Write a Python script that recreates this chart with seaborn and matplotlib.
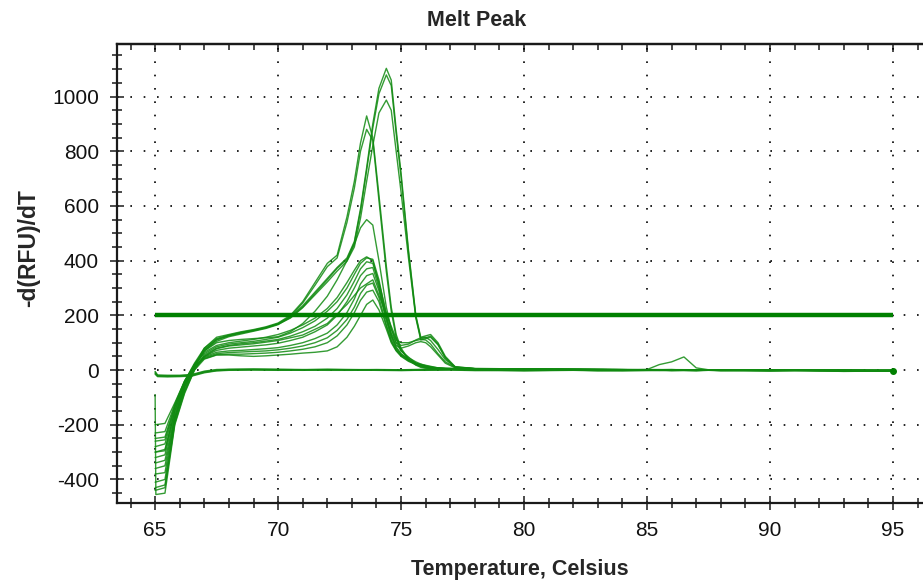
import numpy as np
import pandas as pd
import matplotlib
matplotlib.use("Agg")
import matplotlib.pyplot as plt
import seaborn as sns
from matplotlib.ticker import MultipleLocator

# temperature grid for the sample (positive) wells
temps = [65.0, 65.4, 65.8, 66.2, 66.6, 67.0, 67.5, 68.0, 68.5, 69.0,
         69.5, 70.0, 70.5, 71.0, 71.5, 72.0, 72.4, 72.8, 73.1, 73.35,
         73.6, 73.85, 74.1, 74.4, 74.6, 74.8, 75.0, 75.3, 75.6, 75.8,
         76.0, 76.2, 76.5, 76.8, 77.2, 78.0, 80.0, 85.0, 90.0, 95.0]

# -d(RFU)/dT, one list per well
well_a1 = [-300, -290, -150, -50, 20, 75, 110, 125, 135, 145,
           155, 170, 195, 235, 285, 335, 375, 410, 470, 590,
           740, 900, 1030, 1103, 1060, 880, 720, 440, 200, 120,
           125, 130, 100, 50, 12, 6, 4, 2, 0, -2]
well_a2 = [-380, -375, -175, -60, 15, 70, 105, 122, 132, 142,
           152, 166, 192, 230, 280, 330, 372, 405, 465, 580,
           730, 885, 1010, 1079, 1040, 865, 705, 430, 195, 115,
           118, 124, 95, 45, 10, 5, 3, 1, 0, -3]
well_a3 = [-250, -245, -130, -40, 25, 80, 115, 128, 138, 146,
           156, 168, 190, 228, 275, 322, 362, 398, 450, 555,
           690, 820, 940, 987, 950, 800, 650, 410, 190, 110,
           115, 120, 92, 45, 10, 5, 3, 1, 0, -2]
well_b1 = [-340, -330, -170, -60, 15, 80, 120, 130, 140, 148,
           158, 172, 200, 250, 320, 390, 420, 560, 690, 830,
           929, 850, 640, 380, 230, 130, 80, 40, 20, 12,
           8, 6, 5, 4, 3, 3, 2, 1, 0, -2]
well_b2 = [-410, -400, -180, -70, 10, 72, 112, 126, 136, 144,
           154, 168, 196, 245, 310, 378, 410, 540, 665, 800,
           880, 840, 620, 360, 215, 120, 75, 38, 18, 10,
           7, 5, 4, 3, 3, 2, 2, 1, 0, -2]
well_c1 = [-280, -270, -140, -45, 20, 70, 100, 108, 112, 115,
           118, 122, 140, 170, 215, 270, 330, 400, 460, 520,
           550, 530, 400, 230, 150, 100, 70, 45, 30, 22,
           16, 12, 8, 6, 5, 4, 3, 1, 0, -2]
well_d1 = [-200, -195, -120, -40, 20, 60, 85, 95, 100, 105,
           112, 120, 135, 155, 180, 215, 250, 300, 350, 390,
           410, 405, 330, 200, 130, 85, 60, 40, 25, 18,
           14, 10, 7, 5, 4, 3, 2, 1, 0, -2]
well_d2 = [-430, -420, -190, -75, 5, 55, 80, 90, 96, 100,
           106, 112, 124, 140, 160, 190, 225, 275, 325, 370,
           396, 390, 320, 210, 150, 110, 100, 100, 108, 112,
           110, 95, 60, 30, 10, 5, 3, 1, 0, -2]
well_d3 = [-320, -310, -160, -55, 10, 50, 72, 80, 84, 88,
           92, 98, 108, 120, 140, 165, 200, 250, 300, 345,
           370, 375, 300, 190, 135, 100, 90, 95, 110, 118,
           120, 108, 75, 38, 12, 5, 3, 1, 0, -2]
well_d4 = [-260, -255, -135, -45, 15, 48, 65, 70, 72, 75,
           78, 82, 90, 100, 115, 135, 165, 210, 260, 315,
           345, 353, 290, 180, 120, 80, 58, 38, 25, 18,
           13, 10, 7, 5, 4, 3, 2, 1, 0, -2]
well_d5 = [-360, -350, -175, -60, 8, 45, 60, 64, 66, 68,
           70, 74, 80, 88, 100, 118, 145, 185, 230, 280,
           310, 318, 265, 165, 110, 75, 55, 36, 24, 17,
           12, 9, 6, 5, 4, 3, 2, 1, 0, -2]
well_d6 = [-300, -295, -150, -50, 12, 42, 56, 58, 58, 60,
           62, 65, 70, 76, 85, 100, 125, 165, 210, 255,
           285, 292, 250, 160, 105, 72, 52, 34, 22, 16,
           11, 8, 6, 5, 4, 3, 2, 1, 0, -2]
well_d7 = [-440, -430, -195, -80, 0, 40, 55, 55, 52, 50,
           52, 55, 58, 62, 65, 70, 85, 120, 160, 200,
           240, 256, 220, 150, 100, 70, 50, 32, 20, 14,
           10, 8, 6, 4, 3, 3, 2, 1, 0, -2]
well_d8 = [-230, -225, -125, -40, 18, 65, 90, 100, 106, 112,
           120, 130, 145, 165, 190, 225, 265, 320, 365, 400,
           414, 400, 310, 190, 125, 90, 80, 88, 100, 104,
           100, 85, 55, 25, 8, 4, 3, 1, 0, -2]

# one well that opens with a spike before dropping to its plateau
spike_temps = [65.0, 65.03, 65.4, 65.8, 66.2, 66.6, 67.0, 67.5, 68.0, 69.0,
               70.0, 71.0, 72.0, 72.8, 73.35, 73.85, 74.4, 75.0, 75.6, 76.5,
               78.0, 85.0, 95.0]
well_d9 = [-90, -455, -450, -200, -85, 0, 50, 78, 88, 96,
           108, 128, 170, 240, 300, 330, 205, 70, 25, 8,
           4, 1, -2]

# temperature grid for the flat (negative) wells
flat_temps = [65.0, 65.1, 65.5, 66.0, 66.5, 67.0, 67.5, 68.0, 69.0, 70.0,
              71.0, 72.0, 73.0, 74.0, 75.0, 76.0, 77.0, 78.0, 79.0, 80.0,
              81.0, 82.0, 83.0, 84.0, 85.0, 85.5, 86.0, 86.5, 87.0, 87.5,
              88.0, 89.0, 90.0, 91.0, 92.0, 93.0, 94.0, 95.0]
flat_n1 = [-8, -20, -21, -21, -18, -6, 0, 2, 3, 2,
           1, 3, 2, 1, 0, 2, 3, 1, 0, -1,
           1, 2, 0, -1, 0, 1, 2, 0, -1, 1,
           0, -1, -2, 0, -1, -3, -2, 0]
flat_n2 = [-12, -22, -23, -22, -20, -8, -2, 0, 1, 0,
           -1, 1, 0, -1, -2, 0, 1, -1, -2, -2,
           -1, 0, -2, -3, -1, -2, 0, -1, -2, 0,
           -2, -3, -3, -2, -4, -4, -3, -2]
flat_n3 = [-5, -18, -19, -19, -16, -4, 2, 3, 4, 3,
           2, 2, 1, 2, 1, 3, 2, 0, 1, 0,
           0, 1, 1, 0, 2, 20, 30, 48, 8, 1,
           0, 0, -1, 0, -2, -1, -2, 0]
flat_n4 = [-15, -24, -25, -24, -22, -10, -3, -1, 0, -1,
           0, -1, -1, 0, -1, -1, 0, -2, -1, -3,
           -2, -1, -3, -2, -2, -1, -3, -2, -3, -1,
           -3, -2, -4, -3, -3, -5, -4, -3]

threshold = 200
threshold_span = [65.0, 95.0]

samples = {"A1": well_a1, "A2": well_a2, "A3": well_a3, "B1": well_b1,
           "B2": well_b2, "C1": well_c1, "D1": well_d1, "D2": well_d2,
           "D3": well_d3, "D4": well_d4, "D5": well_d5, "D6": well_d6,
           "D7": well_d7, "D8": well_d8}
flats = {"N1": flat_n1, "N2": flat_n2, "N3": flat_n3, "N4": flat_n4}

rows = []
for name, vals in samples.items():
    for t, v in zip(temps, vals):
        rows.append({"well": name, "Temperature": t, "dRFU": v})
for t, v in zip(spike_temps, well_d9):
    rows.append({"well": "D9", "Temperature": t, "dRFU": v})
for name, vals in flats.items():
    for t, v in zip(flat_temps, vals):
        rows.append({"well": name, "Temperature": t, "dRFU": v})
df = pd.DataFrame(rows)

sns.set_style("white")
plt.rcParams["font.family"] = ["Liberation Sans", "DejaVu Sans"]
plt.rcParams["axes.unicode_minus"] = False

green = "#108a10"
ink = "#1a1a1a"

fig = plt.figure(figsize=(9.23, 5.83), dpi=100)
ax = fig.add_axes([117 / 923, 1 - 503 / 583, 1 - 117 / 923, (503 - 44) / 583])

sns.lineplot(data=df, x="Temperature", y="dRFU", units="well", estimator=None,
             color=green, linewidth=1.0, alpha=0.85, sort=False, ax=ax, legend=False)

ax.hlines(threshold, threshold_span[0], threshold_span[1], color="#008000", linewidth=3.2, zorder=3)
ax.plot(flat_temps[-1], flat_n2[-1], "o", color="#008000", markersize=4)

ax.set_xlim(63.45, 96.22)
ax.set_ylim(-486, 1192)

ax.xaxis.set_major_locator(MultipleLocator(5))
ax.xaxis.set_minor_locator(MultipleLocator(1))
ax.yaxis.set_major_locator(MultipleLocator(200))
ax.yaxis.set_minor_locator(MultipleLocator(50))

ax.tick_params(which="both", bottom=True, left=True, top=False, right=False)
ax.tick_params(which="major", direction="inout", length=10, width=1.1, color=ink,
               labelsize=15, pad=8, labelcolor="#111111")
ax.tick_params(which="minor", direction="inout", length=7, width=1.1, color=ink)

top = ax.secondary_xaxis("top")
top.xaxis.set_major_locator(MultipleLocator(5))
top.xaxis.set_minor_locator(MultipleLocator(1))
top.tick_params(which="both", top=True, labeltop=False, direction="in", width=1.1, color=ink)
top.tick_params(which="major", length=6)
top.tick_params(which="minor", length=4)
top.spines["top"].set_linewidth(1.6)
top.spines["top"].set_color(ink)

for side in ["left", "bottom", "top"]:
    ax.spines[side].set_linewidth(1.6)
    ax.spines[side].set_color(ink)
ax.spines["right"].set_visible(False)

ax.grid(True, which="major", color="black", linestyle=(0, (1, 7)), linewidth=1.2)
ax.set_axisbelow(True)

ax.set_title("Melt Peak", fontsize=15.5, fontweight="bold", pad=13, x=(477 - 117) / 806)
ax.set_xlabel("Temperature, Celsius", fontsize=15.5, fontweight="bold", labelpad=14)
ax.set_ylabel("-d(RFU)/dT", fontsize=16.5, fontweight="bold")
ax.yaxis.set_label_coords(-77 / 806, 0.555)

plt.savefig("out.png", dpi=100)
